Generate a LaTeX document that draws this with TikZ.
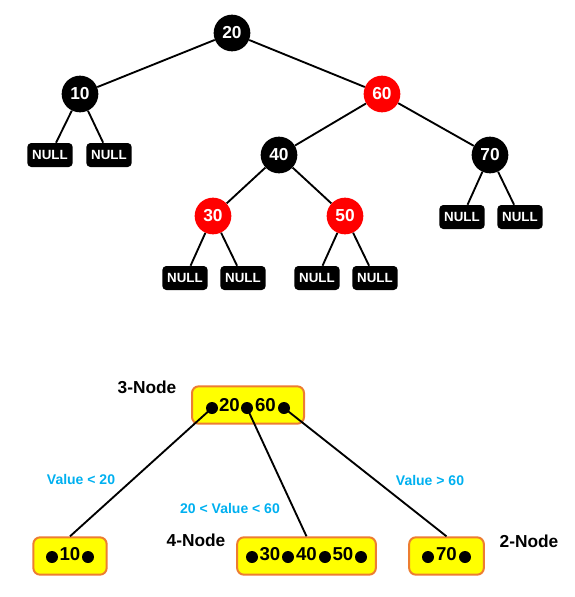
\documentclass[tikz,border=0pt]{standalone}
\usepackage{fontspec}
\setmainfont{Liberation Sans}
\usetikzlibrary{positioning}

\definecolor{keyyellow}{HTML}{FFFF00}
\definecolor{keyorange}{HTML}{ED7D31}
\definecolor{labelblue}{HTML}{00B0F0}

\begin{document}
\begin{tikzpicture}[x=0.75pt,y=-0.75pt]

\useasboundingbox (0,0) rectangle (575,597);

\tikzstyle{rbnode} = [circle, minimum size=27.5pt, inner sep=0pt, text=white, font=\bfseries\fontsize{13}{13}\selectfont]
\tikzstyle{blacknode} = [rbnode, fill=black]
\tikzstyle{rednode} = [rbnode, fill=red]
\tikzstyle{nullbox} = [fill=black, rounded corners=3pt, minimum width=34pt, minimum height=18pt, inner sep=0pt, text=white, font=\bfseries\fontsize{10}{10}\selectfont]
\tikzstyle{edge} = [line width=1.4pt]

\tikzstyle{keybox} = [draw=keyorange, fill=keyyellow, line width=1.5pt, rounded corners=5pt, minimum height=28pt, inner sep=0pt]
\tikzstyle{keydot} = [circle, fill=black, minimum size=9pt, inner sep=0pt]
\tikzstyle{keynum} = [inner sep=0pt, font=\bfseries\fontsize{14}{14}\selectfont]
\tikzstyle{kindlabel} = [font=\bfseries\fontsize{13}{13}\selectfont]
\tikzstyle{rangelabel} = [text=labelblue, font=\bfseries\fontsize{10.5}{10.5}\selectfont]

\newcommand{\blacknode}[2]{node (r#1) [blacknode] {#2}}
\newcommand{\rednode}[2]{node (r#1) [rednode] {#2}}
\newcommand{\nullbox}[1]{node (n#1) [nullbox] {NULL}}
\newcommand{\keydot}[1]{node (d#1) [keydot] {}}

% red-black tree
\path (232,33) \blacknode{20}{20};
\path (80,94) \blacknode{10}{10};
\path (382,94) \rednode{60}{60};
\path (279,155) \blacknode{40}{40};
\path (490,155) \blacknode{70}{70};
\path (213,216) \rednode{30}{30};
\path (345,216) \rednode{50}{50};

\path (50,155) \nullbox{1};
\path (109,155) \nullbox{2};
\path (185,278) \nullbox{3};
\path (243,278) \nullbox{4};
\path (317,278) \nullbox{5};
\path (375,278) \nullbox{6};
\path (462,217) \nullbox{7};
\path (520,217) \nullbox{8};

\draw[edge] (r20) -- (r10);
\draw[edge] (r20) -- (r60);
\draw[edge] (r60) -- (r40);
\draw[edge] (r60) -- (r70);
\draw[edge] (r40) -- (r30);
\draw[edge] (r40) -- (r50);
\draw[edge] (r10) -- (n1);
\draw[edge] (r10) -- (n2);
\draw[edge] (r30) -- (n3);
\draw[edge] (r30) -- (n4);
\draw[edge] (r50) -- (n5);
\draw[edge] (r50) -- (n6);
\draw[edge] (r70) -- (n7);
\draw[edge] (r70) -- (n8);

% 2-3-4 tree
\node (k3) [keybox, minimum width=84pt] at (248,405) {};
\node (k2a) [keybox, minimum width=55pt] at (70,556) {};
\node (k4) [keybox, minimum width=104pt] at (306.5,556) {};
\node (k2b) [keybox, minimum width=56pt] at (446.5,556) {};

\path (212,408) \keydot{a1};
\path (247,408) \keydot{a2};
\path (284,408) \keydot{a3};
\node[keynum] (t20) at (229.5,405) {20};
\node[keynum] (t60) at (265.5,405) {60};

\path (52,557) \keydot{b1};
\path (88,557) \keydot{b2};
\node[keynum] (t10) at (70,554) {10};

\path (252,557) \keydot{c1};
\path (288,557) \keydot{c2};
\path (325,557) \keydot{c3};
\path (361,557) \keydot{c4};
\node[keynum] (t30) at (270,554) {30};
\node[keynum] (t40) at (306.5,554) {40};
\node[keynum] (t50) at (343,554) {50};

\path (428,557) \keydot{e1};
\path (465,557) \keydot{e2};
\node[keynum] (t70) at (446.5,554) {70};

\draw[edge] (da1.center) -- (k2a.north);
\draw[edge] (da2.center) -- (k4.north);
\draw[edge] (da3.center) -- (k2b.north);

\node[kindlabel] (l3) at (147,387) {3-Node};
\node[kindlabel] (l4) at (196,540) {4-Node};
\node[kindlabel] (l2) at (529,541) {2-Node};

\node[rangelabel] (v1) at (81,479) {Value {<} 20};
\node[rangelabel] (v2) at (230,508) {20 {<} Value {<} 60};
\node[rangelabel] (v3) at (430,480) {Value {>} 60};

\end{tikzpicture}
\end{document}
